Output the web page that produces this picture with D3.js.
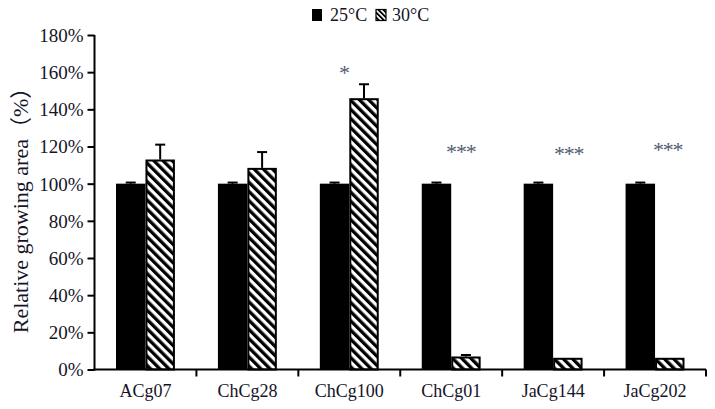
<!DOCTYPE html>
<html><head><meta charset="utf-8">
<script src="https://cdn.jsdelivr.net/npm/d3@7"></script>
<style>body{margin:0;background:#fff}svg{display:block}</style>
</head><body>
<svg id="c" width="715" height="409"></svg>
<script>
const categories = ["ACg07","ChCg28","ChCg100","ChCg01","JaCg144","JaCg202"];
const series = ["25°C","30°C"];
const values25 = [100,100,100,100,100,100];
const errors25 = [0.6,0.6,0.6,0.6,0.6,0.6];
const values30 = [113,108.5,146,7,6.3,6.3];
const errors30 = [8,8.5,7.5,0.8,0,0];
const stars = ["","","*","***","***","***"];
const starY = [0,0,162.3,119.8,118.7,120.9];
const starDx = [0,0,-6,9,15,12];
const yTicks = [0,20,40,60,80,100,120,140,160,180];

const svg = d3.select("#c");
const X0 = 94.5, X1 = 706;
const x = d3.scaleBand().domain(categories).range([X0, X1]).paddingInner(0).paddingOuter(0);
const inner = d3.scaleBand().domain(series).range([0, x.bandwidth()]).paddingInner(0).paddingOuter(0.73);
const y = d3.scaleLinear().domain([0,180]).range([369.5, 35]);

const defs = svg.append("defs");
const pat = defs.append("pattern").attr("id","hatch").attr("patternUnits","userSpaceOnUse")
  .attr("width",6.5).attr("height",6.5).attr("patternTransform","rotate(-45)");
pat.append("rect").attr("width",6.5).attr("height",6.5).attr("fill","#fff");
pat.append("rect").attr("width",3.3).attr("height",6.5).attr("fill","#000");
const lpat = defs.append("pattern").attr("id","hatchL").attr("patternUnits","userSpaceOnUse")
  .attr("width",3.5).attr("height",3.5).attr("patternTransform","rotate(-45)");
lpat.append("rect").attr("width",3.5).attr("height",3.5).attr("fill","#fff");
lpat.append("rect").attr("width",1.8).attr("height",3.5).attr("fill","#000");

const font = "'Liberation Serif','Times New Roman','Noto Sans CJK SC',serif";
const txt = "#141428";

// bars
const g = svg.append("g");
categories.forEach((c,i)=>{
  const x0 = x(c);
  [[values25[i],errors25[i],series[0]],[values30[i],errors30[i],series[1]]].forEach(([v,e,s])=>{
    if(e>0){
      const cx = x0 + inner(s) + inner.bandwidth()/2;
      g.append("line").attr("x1",cx).attr("x2",cx).attr("y1",y(v)).attr("y2",y(v+e)).attr("stroke","#000").attr("stroke-width",2);
      g.append("line").attr("x1",cx-5).attr("x2",cx+5).attr("y1",y(v+e)).attr("y2",y(v+e)).attr("stroke","#000").attr("stroke-width",2);
    }
  });
  g.append("rect").attr("x",x0+inner(series[0])).attr("y",y(values25[i])).attr("width",inner.bandwidth()).attr("height",y(0)-y(values25[i])).attr("fill","#000");
  g.append("rect").attr("x",x0+inner(series[1])+1).attr("y",y(values30[i])+1).attr("width",inner.bandwidth()-2).attr("height",y(0)-y(values30[i])-1)
    .attr("fill","url(#hatch)").attr("stroke","#000").attr("stroke-width",2);
  if(stars[i]){
    svg.append("text").attr("x",x0+x.bandwidth()/2+starDx[i]+0.6).attr("y",y(starY[i])+12).attr("text-anchor","middle")
      .attr("font-family",font).attr("font-size",22).attr("letter-spacing",-1.2).attr("fill","#525c70").text(stars[i]);
  }
});

// axes
const ya = svg.append("g").attr("transform",`translate(${X0},0)`)
  .call(d3.axisLeft(y).tickValues(yTicks).tickFormat(d=>d+"%").tickSize(7).tickSizeOuter(0));
const xa = svg.append("g").attr("transform",`translate(0,${y(0)})`)
  .call(d3.axisBottom(x).tickSize(0).tickSizeOuter(0));
[ya,xa].forEach(a=>{a.select(".domain").attr("stroke","#000").attr("stroke-width",2);
  a.selectAll("line").attr("stroke","#000").attr("stroke-width",2);
  a.selectAll("text").attr("font-family",font).attr("fill",txt);});
ya.selectAll("text").attr("font-size",19).attr("dx",-1).attr("dy","0.34em");
xa.selectAll("text").attr("font-size",18).attr("dy",24);
xa.selectAll(".bt").data(categories).enter().append("line")
  .attr("x1",d=>x(d)+x.bandwidth()).attr("x2",d=>x(d)+x.bandwidth()).attr("y1",0).attr("y2",7)
  .attr("stroke","#000").attr("stroke-width",2);
xa.select(".domain").attr("d",`M${X0-1},0H${X1}`);
ya.select(".domain").attr("d",`M0,${y(0)+1}V${y(180)}`);

// y label
svg.append("text").attr("transform","translate(28,205) rotate(-90)").attr("text-anchor","middle")
  .attr("font-family",font).attr("font-size",22).attr("fill",txt).text("Relative growing area（%）");

// legend
const lg = svg.append("g").attr("transform","translate(312,9)");
lg.append("rect").attr("x",0).attr("y",0).attr("width",10).attr("height",12).attr("fill","#000");
lg.append("text").attr("x",18).attr("y",12).attr("font-family",font).attr("font-size",18).attr("fill",txt).text(series[0]);
lg.append("rect").attr("x",64).attr("y",0.5).attr("width",10).attr("height",11).attr("fill","url(#hatchL)").attr("stroke","#000").attr("stroke-width",1.2);
lg.append("text").attr("x",80).attr("y",12).attr("font-family",font).attr("font-size",18).attr("fill",txt).text(series[1]);
</script>
</body></html>
